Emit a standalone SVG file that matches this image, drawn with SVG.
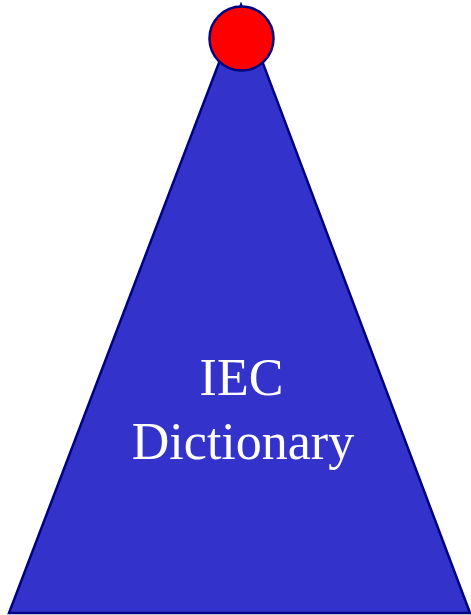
<svg xmlns="http://www.w3.org/2000/svg" width="471" height="615" viewBox="0 0 471 615">
<style>
.shape{stroke:#000080;stroke-width:2.5}
.lbl{font-family:"Liberation Serif","Times New Roman",serif;font-size:52px;fill:#FFFFFF;text-anchor:middle}
</style>
<rect width="471" height="615" fill="#FFFFFF"/>
<g id="dictionary">
<polygon class="shape" points="241,5 470,613 9,613" fill="#3333CC"/>
<text class="lbl" x="241.5" y="395">IEC</text>
<text class="lbl" x="243" y="459">Dictionary</text>
</g>
<g id="top">
<circle class="shape" cx="241.5" cy="38.5" r="32" fill="#FF0000"/>
</g>
<g id="connectors"/>
</svg>
